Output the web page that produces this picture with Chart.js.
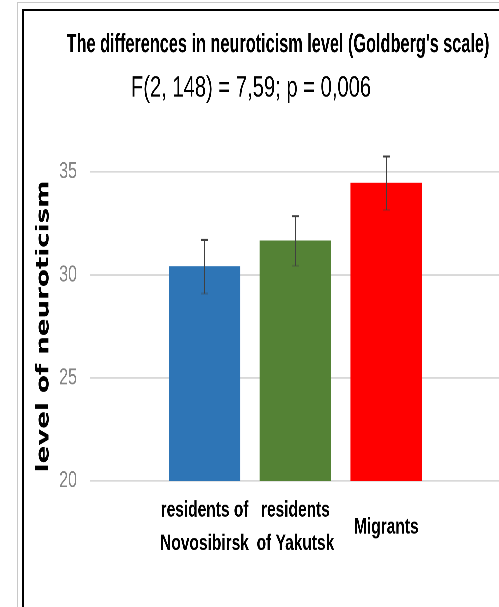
<!DOCTYPE html>
<html>
<head>
<meta charset="utf-8">
<script src="https://cdn.jsdelivr.net/npm/chart.js@4"></script>
<style>
    html, body { margin: 0; padding: 0; background: #fff; overflow: hidden; }
    /* the figure is drawn short and stretched tall, which gives the squeezed lettering */
    #wrap {
        position: absolute; left: 0; top: 0;
        width: 499px; height: 419px;
        transform: scaleY(1.4487); transform-origin: 0 0;
    }
    .box { position: absolute; right: 0; bottom: 0; }
    #outer { left: 17px; top: 2px; border-left: 1px solid #c8c8c8; border-top: 1px solid #c8c8c8; }
    #inner { left: 22px; top: 9px; border-left: 2px solid #000; border-top: 2px solid #000; }
</style>
</head>
<body>
<div id="wrap"><canvas id="chart" width="499" height="419"></canvas></div>
<div class="box" id="outer"></div>
<div class="box" id="inner"></div>
<script>
const groups = [["residents of", "Novosibirsk"], ["residents", "of Yakutsk"], ["Migrants"]];
const means = [30.4, 31.65, 34.45];
const errors = [1.3, 1.2, 1.3];
const colors = ["#2E75B6", "#548235", "#FF0000"];
const yTicks = [20, 25, 30, 35];

const title = "The differences in neuroticism level (Goldberg's scale)";
const subtitle = "F(2, 148) = 7,59; p = 0,006";
const yTitle = "level of neuroticism";

const SANS = "'Liberation Sans', Arial, sans-serif";

// the two heading lines above the plot
const headings = {
    id: "headings",
    afterDraw(chart) {
        const ctx = chart.ctx;
        ctx.save();
        ctx.fillStyle = "#000";
        ctx.textAlign = "center";
        ctx.textBaseline = "alphabetic";

        ctx.save();
        ctx.translate(278, 35.9);
        ctx.scale(1, 1.12);
        ctx.font = "bold 16.3px " + SANS;
        ctx.fillText(title, 0, 0);
        ctx.restore();

        ctx.font = "20.2px " + SANS;
        ctx.fillText(subtitle, 251, 66.8);
        ctx.restore();
    }
};

// standard error whiskers on each bar
const errorBars = {
    id: "errorBars",
    afterDatasetsDraw(chart) {
        const ctx = chart.ctx;
        const y = chart.scales.y;
        const meta = chart.getDatasetMeta(0);
        ctx.save();
        meta.data.forEach((bar, i) => {
            const top = y.getPixelForValue(means[i] + errors[i]);
            const bottom = y.getPixelForValue(means[i] - errors[i]);
            ctx.strokeStyle = "#404040";
            ctx.lineWidth = 1;
            ctx.beginPath();
            ctx.moveTo(bar.x, top);
            ctx.lineTo(bar.x, bottom);
            ctx.stroke();
            ctx.lineWidth = 1.4;
            ctx.beginPath();
            ctx.moveTo(bar.x - 3.5, top);
            ctx.lineTo(bar.x + 3.5, top);
            ctx.stroke();
            ctx.strokeStyle = "rgba(64,64,64,0.3)";
            ctx.beginPath();
            ctx.moveTo(bar.x - 3.5, bottom);
            ctx.lineTo(bar.x + 3.5, bottom);
            ctx.stroke();
        });
        ctx.restore();
    }
};

new Chart(document.getElementById("chart"), {
    type: "bar",
    data: {
        datasets: [{
            data: means.map((m, i) => ({ x: i, y: m })),
            backgroundColor: colors,
            borderWidth: 0,
            barThickness: 71
        }]
    },
    options: {
        responsive: false,
        animation: false,
        devicePixelRatio: 3,
        layout: { padding: { top: 118.7, left: 0, right: 0, bottom: 0 } },
        plugins: {
            legend: { display: false },
            tooltip: { enabled: false }
        },
        scales: {
            x: {
                type: "linear",
                offset: false,
                min: -1.26,
                max: 3.24,
                afterBuildTicks: axis => { axis.ticks = groups.map((_, i) => ({ value: i })); },
                afterFit: scale => { scale.height = 87; },
                grid: { display: false },
                border: { display: false },
                ticks: {
                    autoSkip: false,
                    maxRotation: 0,
                    padding: 12.5,
                    crossAlign: "center",
                    color: "#000",
                    font: { family: SANS, size: 15.5, weight: "bold", lineHeight: 1.47 },
                    callback: value => groups[value] || ""
                }
            },
            y: {
                min: 20,
                max: 35,
                afterBuildTicks: axis => { axis.ticks = yTicks.map(v => ({ value: v })); },
                afterFit: scale => { scale.width = 90; },
                grid: { color: "#d9d9d9", lineWidth: 1.2, drawTicks: false },
                border: { display: false },
                title: {
                    display: true,
                    text: yTitle,
                    color: "#000",
                    padding: { top: 33, bottom: 0 },
                    font: { family: "'DejaVu Sans', sans-serif", size: 18, weight: "bold" }
                },
                ticks: {
                    padding: 13,
                    color: "#858585",
                    font: { family: SANS, size: 16 }
                }
            }
        }
    },
    plugins: [headings, errorBars]
});
</script>
</body>
</html>
